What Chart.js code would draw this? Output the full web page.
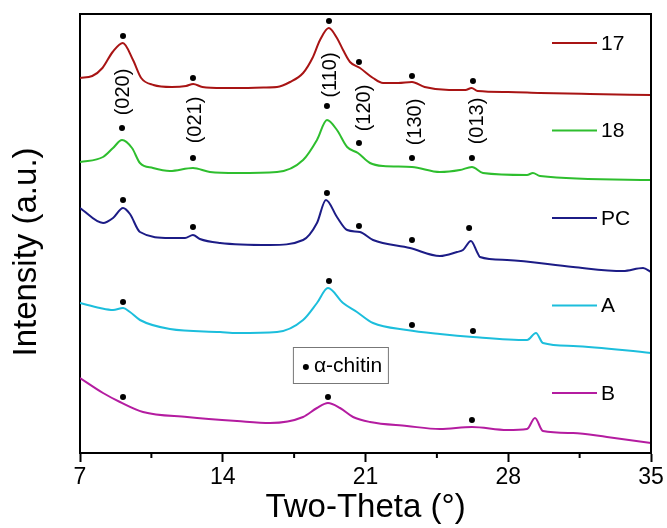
<!DOCTYPE html>
<html><head><meta charset="utf-8">
<script src="https://cdn.jsdelivr.net/npm/chart.js@4.4.1/dist/chart.umd.min.js"></script>
<style>html,body{margin:0;padding:0;background:#fff}</style>
</head><body>
<canvas id="c" width="667" height="528"></canvas>
<script>
// ---- data (2θ in degrees, intensity in arbitrary units, curves stacked) ----
const seriesNames = ['17', '18', 'PC', 'A', 'B'];

const x17 = [7.0,7.6,8.1,8.6,9.1,9.6,10.0,10.6,11.5,12.2,12.55,13.0,14.0,15.0,16.0,16.66,17.3,17.94,18.4,18.77,19.2,19.6,19.9,20.24,20.73,21.37,21.86,22.6,23.28,23.9,25.1,25.9,26.2,26.5,28.0,29.56,32.0,35.0];
const y17 = [375,377,385,401,410,393,375,368,366,367,369,366,365,365,365.5,366,371,380,395,413,425,415,403,391,385,375,370,370,371,366,363,363,365,362,361,360,359,358];

const x18 = [7.0,8.13,8.62,9.06,9.55,9.94,10.58,11.41,12.54,13.37,14.7,16.66,17.94,18.62,19.11,19.6,20.1,20.63,21.22,21.86,23.28,24.65,25.63,26.22,26.76,28.92,29.21,29.56,35.0];
const y18 = [291,296,305,313,305,290,285,282,285,281,280,281,293,313,333,323,306,300,290,287,286,281,283,286,280,278,280,277,273];

const xPC = [7.0,8.13,8.62,9.11,9.45,9.94,11.41,12.15,12.54,12.88,13.87,16.32,17.94,18.62,19.06,19.6,20.1,20.73,21.37,23.18,24.65,25.49,25.78,26.17,26.47,26.61,27.94,31.18,33.63,34.61,35.0];
const yPC = [245,230,235,245,239,221,215,215,218,214,210,208,213,230,253,236,223,221,213,205,197,201,203,212,201,196,193,186,182,185,181];

const xA = [7.0,7.98,8.62,9.11,9.45,9.94,11.41,13.87,14.7,16.66,17.94,18.62,19.16,19.9,20.58,21.37,23.03,24.65,26.27,28.92,29.36,29.7,31.18,35.0];
const yA = [150,145,143,145,141,133,124,121,120,121,133,150,165,150,141,130,123,119,116,113,120,110,107,100];

const xB = [7.0,8.13,8.96,10.09,12.25,14.7,16.32,17.94,18.62,19.16,19.75,20.39,21.22,23.03,24.65,26.22,27.94,28.92,29.31,29.7,31.18,32.84,35.0];
const yB = [75,60,51,41,36,32,30,36,45,50,45,36,31,27,24,26,23,24,35,22,20,16,10];

// α-chitin reflection markers
const dot17X = [9.11,12.54,19.21,20.68,23.28,26.27], dot17Y = [417,375,432,391,377,372];
const dot18X = [9.06,12.54,19.11,20.68,23.28,26.22], dot18Y = [325,295,347,310,295,295];
const dotPCX = [9.11,12.54,19.11,20.68,23.28,26.08], dotPCY = [253,226,260,227,213,225];
const dotAX = [9.11,19.21,23.28,26.27], dotAY = [151,172,128,122];
const dotBX = [9.11,19.16,26.22], dotBY = [56,56,33];

// Miller index labels
const hklLabels = ['(020)','(021)','(110)','(120)','(130)','(013)'];
const hklX = [9.11,12.64,19.26,20.93,23.43,26.47];
const hklY = [361,333,378,345,331,332];

const xTicks = [7, 14, 21, 28, 35];

// ---- styles ----
const colors = ['#A81414', '#2EBE2E', '#1C1C86', '#1CBEDC', '#B41CA0'];
const FONT = "'Liberation Sans', Arial, sans-serif";

function pts(xs, ys) { return xs.map((x, i) => ({ x: x, y: ys[i] })); }

const curves = [[x17,y17],[x18,y18],[xPC,yPC],[xA,yA],[xB,yB]];
const dots = [[dot17X,dot17Y],[dot18X,dot18Y],[dotPCX,dotPCY],[dotAX,dotAY],[dotBX,dotBY]];

const datasets = [];
curves.forEach((c, i) => datasets.push({
  label: seriesNames[i], data: pts(c[0], c[1]), borderColor: colors[i],
  borderWidth: 2, pointRadius: 0, tension: 0.35, cubicInterpolationMode: 'monotone', fill: false, order: 2
}));
dots.forEach((d, i) => datasets.push({
  label: 'dots' + i, data: pts(d[0], d[1]), showLine: false, pointRadius: 3,
  pointBackgroundColor: '#000', pointBorderColor: '#000', pointBorderWidth: 0, order: 1
}));

const decor = {
  id: 'decor',
  afterDatasetsDraw(chart) {
    const ctx = chart.ctx, xs = chart.scales.x, ys = chart.scales.y, a = chart.chartArea;
    ctx.save();
    // hkl labels (rotated)
    ctx.fillStyle = '#000';
    ctx.font = '20px ' + FONT;
    ctx.textAlign = 'center'; ctx.textBaseline = 'middle';
    hklLabels.forEach((t, i) => {
      ctx.save();
      ctx.translate(xs.getPixelForValue(hklX[i]), ys.getPixelForValue(hklY[i]));
      ctx.rotate(-Math.PI / 2);
      ctx.fillText(t, 0, 0);
      ctx.restore();
    });
    // y-axis title
    ctx.save();
    ctx.font = '33px ' + FONT;
    ctx.translate(a.left - 53, a.top + 238);
    ctx.rotate(-Math.PI / 2);
    ctx.fillText('Intensity (a.u.)', 0, 0);
    ctx.restore();
    // legend
    ctx.font = '21px ' + FONT;
    ctx.textAlign = 'left';
    seriesNames.forEach((n, i) => {
      const y = a.top + 29 + i * 87.5;
      ctx.strokeStyle = colors[i]; ctx.lineWidth = 2;
      ctx.beginPath(); ctx.moveTo(a.right - 99, y); ctx.lineTo(a.right - 54, y); ctx.stroke();
      ctx.fillStyle = '#000';
      ctx.fillText(n, a.right - 50, y + 1);
    });
    // α-chitin key box
    const bx = xs.getPixelForValue(17.44), by = ys.getPixelForValue(106);
    ctx.strokeStyle = '#777'; ctx.lineWidth = 1;
    ctx.strokeRect(bx + 0.5, by + 0.5, 95, 36);
    ctx.fillStyle = '#000';
    ctx.beginPath(); ctx.arc(bx + 13, by + 20, 3, 0, Math.PI * 2); ctx.fill();
    ctx.font = '21px ' + FONT;
    ctx.fillText('\u03b1-chitin', bx + 21, by + 19);
    // frame top/right
    ctx.strokeStyle = '#000'; ctx.lineWidth = 2;
    ctx.beginPath();
    ctx.moveTo(a.left, a.top); ctx.lineTo(a.right, a.top); ctx.lineTo(a.right, a.bottom);
    ctx.stroke();
    // minor ticks
    xs.ticks.forEach(t => {
      if (xTicks.indexOf(t.value) < 0) {
        const px = xs.getPixelForValue(t.value);
        ctx.beginPath(); ctx.moveTo(px, a.bottom); ctx.lineTo(px, a.bottom + 5); ctx.stroke();
      }
    });
    ctx.restore();
  }
};

new Chart(document.getElementById('c'), {
  type: 'line',
  data: { datasets: datasets },
  options: {
    responsive: false, animation: false, devicePixelRatio: 1,
    layout: { padding: { top: 14, right: 16, left: 0, bottom: 0 } },
    plugins: { legend: { display: false }, tooltip: { enabled: false } },
    scales: {
      x: {
        type: 'linear', min: 7, max: 35,
        afterFit: s => { s.height = 75; },
        ticks: {
          stepSize: 3.5, autoSkip: false, maxRotation: 0, color: '#000', padding: 2,
          font: { family: FONT, size: 23 },
          callback: v => (xTicks.indexOf(v) >= 0 ? String(v) : '')
        },
        grid: {
          display: true, drawOnChartArea: false, drawTicks: true, tickLength: 9, tickWidth: 2,
          tickColor: c => (c.tick && xTicks.indexOf(c.tick.value) >= 0 ? '#000' : 'rgba(0,0,0,0)')
        },
        border: { display: true, color: '#000', width: 2 },
        title: { display: true, text: 'Two-Theta (\u00b0)', color: '#000', font: { family: FONT, size: 33 }, padding: { top: 0, bottom: 0 } }
      },
      y: {
        min: 0, max: 439,
        afterFit: s => { s.width = 80; },
        ticks: { display: false },
        grid: { display: false },
        border: { display: true, color: '#000', width: 2 },
        title: { display: false }
      }
    }
  },
  plugins: [decor]
});
</script>
</body></html>
